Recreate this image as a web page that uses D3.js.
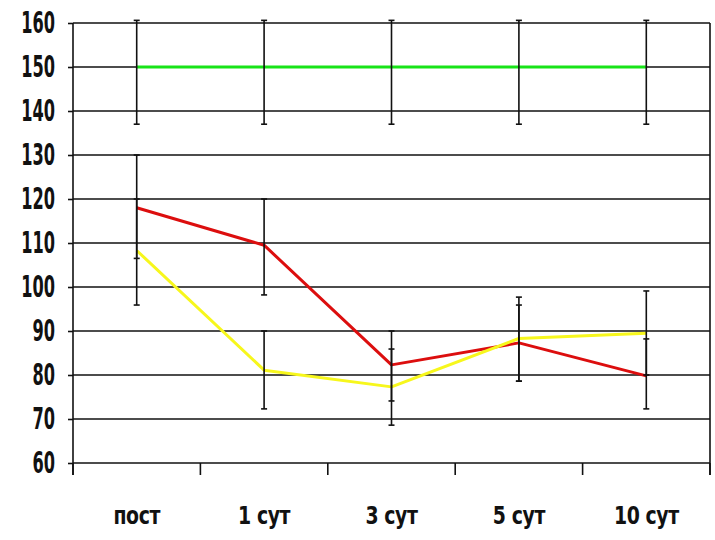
<!DOCTYPE html>
<html>
<head>
<meta charset="utf-8">
<script src="https://cdn.jsdelivr.net/npm/d3@7"></script>
<style>
  html, body { margin: 0; padding: 0; background: #fff; }
  svg { display: block; }
  .lbl { font-family: "DejaVu Sans Condensed", "DejaVu Sans", sans-serif; font-weight: bold; fill: #111; }
</style>
</head>
<body>
<script>
// ---- data ----
const categories = ["пост", "1 сут", "3 сут", "5 сут", "10 сут"];
const yTicks = [60, 70, 80, 90, 100, 110, 120, 130, 140, 150, 160];

const greenValues = [150, 150, 150, 150, 150];
const greenLow    = [137, 137, 137, 137, 137];
const greenHigh   = [160.6, 160.6, 160.6, 160.6, 160.6];

const redValues = [118, 109.5, 82.3, 87.3, 79.8];
const redLow    = [106.5, 98.2, 74.1, 78.6, 72.3];
const redHigh   = [130, 120, 90, 95.9, 88.2];

const yellowValues = [108.3, 81.1, 77.3, 88.3, 89.5];
const yellowLow    = [95.9, 72.3, 68.6, 78.6, 80];
const yellowHigh   = [120, 90, 85.9, 97.7, 99.1];

const series = [
  { name: "norm",   values: greenValues,  low: greenLow,  high: greenHigh,  color: "#18e418" },
  { name: "red",    values: redValues,    low: redLow,    high: redHigh,    color: "#dc0e0e" },
  { name: "yellow", values: yellowValues, low: yellowLow, high: yellowHigh, color: "#f7f71c" }
];

// ---- layout ----
const W = 715, H = 540;
const mLeft = 73, mRight = 710, mTop = 23, mBottom = 463;
const ySX = 0.6, xSX = 0.84;

const svg = d3.select("body").append("svg").attr("width", W).attr("height", H);

const x = d3.scaleBand().domain(categories).range([mLeft, mRight]).padding(0);
const y = d3.scaleLinear().domain([60, 160]).range([mBottom, mTop]);
const cx = c => x(c) + x.bandwidth() / 2;

// left axis ticks + labels
const yAxis = d3.axisLeft(y).tickValues(yTicks).tickSize(5).tickFormat(d => d);
const ya = svg.append("g").attr("transform", `translate(${mLeft},0)`).call(yAxis);
ya.select(".domain").remove();
ya.selectAll("line").attr("stroke", "#111").attr("stroke-width", 1.6);
ya.selectAll("text")
  .attr("class", "lbl")
  .attr("font-size", 30)
  .attr("x", -18 / ySX)
  .attr("dy", "0.33em")
  .attr("transform", `scale(${ySX},1)`)
  .attr("text-anchor", "end");

// gridlines
svg.append("g").selectAll("line").data(yTicks).join("line")
  .attr("x1", mLeft).attr("x2", mRight)
  .attr("y1", d => y(d)).attr("y2", d => y(d))
  .attr("stroke", "#111").attr("stroke-width", 1.6);

// left axis line and right border
svg.append("line").attr("x1", mLeft).attr("x2", mLeft).attr("y1", mTop).attr("y2", mBottom + 12)
  .attr("stroke", "#111").attr("stroke-width", 1.6);
svg.append("line").attr("x1", mRight).attr("x2", mRight).attr("y1", mTop).attr("y2", mBottom + 12)
  .attr("stroke", "#111").attr("stroke-width", 1.6);

// x axis boundary ticks
const bounds = categories.map(c => x(c)).concat([x(categories[categories.length - 1]) + x.bandwidth()]);
svg.append("g").selectAll("line").data(bounds).join("line")
  .attr("x1", d => d).attr("x2", d => d)
  .attr("y1", mBottom).attr("y2", mBottom + 12)
  .attr("stroke", "#111").attr("stroke-width", 1.6);

// x labels
svg.append("g").selectAll("text").data(categories).join("text")
  .attr("class", "lbl")
  .attr("font-size", 25)
  .attr("letter-spacing", -0.5)
  .attr("text-anchor", "middle")
  .attr("transform", c => `translate(${cx(c)},524) scale(${xSX},1)`)
  .text(c => c);

// lines
const line = d3.line().x((d, i) => cx(categories[i])).y(d => y(d));
svg.append("g").selectAll("path").data(series).join("path")
  .attr("d", s => line(s.values))
  .attr("fill", "none")
  .attr("stroke", s => s.color)
  .attr("stroke-width", 3)
  .attr("stroke-linejoin", "round");

// error bars
const eb = svg.append("g");
series.forEach(s => {
  categories.forEach((c, i) => {
    const xc = cx(c);
    eb.append("line").attr("x1", xc).attr("x2", xc)
      .attr("y1", y(s.low[i])).attr("y2", y(s.high[i]))
      .attr("stroke", "#111").attr("stroke-width", 1.6);
    [s.low[i], s.high[i]].forEach(v => {
      eb.append("line").attr("x1", xc - 3).attr("x2", xc + 3)
        .attr("y1", y(v)).attr("y2", y(v))
        .attr("stroke", "#111").attr("stroke-width", 1.6);
    });
  });
});
</script>
</body>
</html>
